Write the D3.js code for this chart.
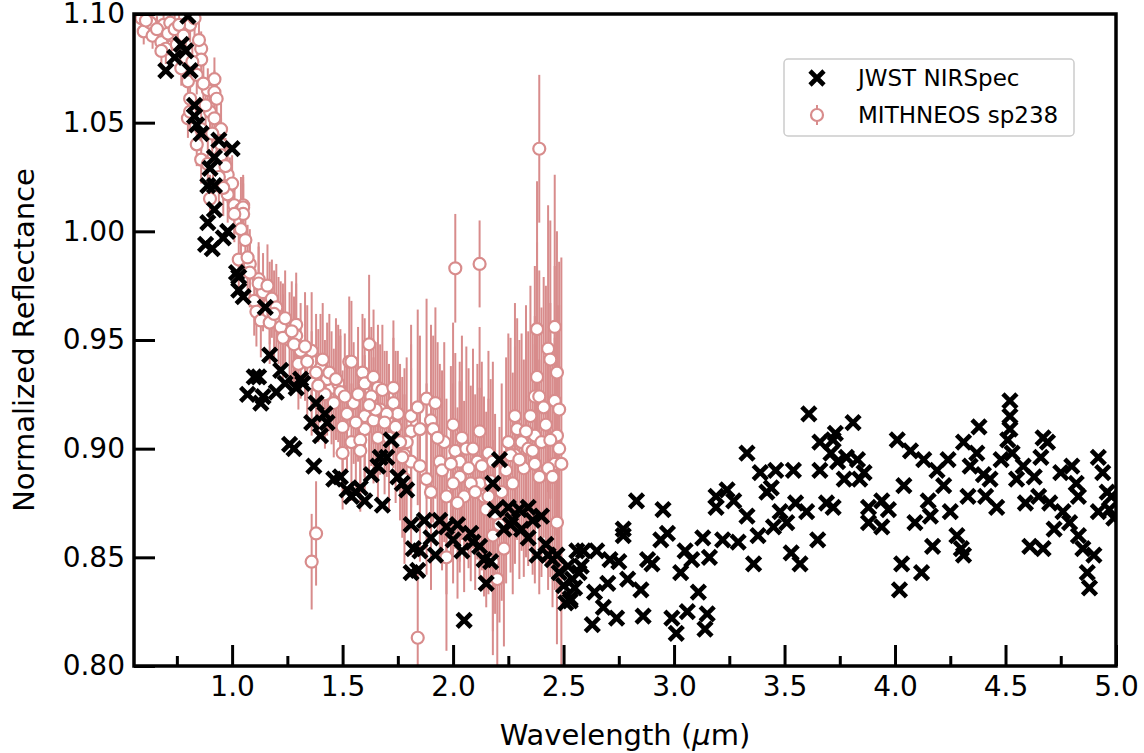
<!DOCTYPE html>
<html>
<head>
<meta charset="utf-8">
<script src="https://cdn.jsdelivr.net/npm/d3@7"></script>
<style>
  body { margin: 0; background: #fff; }
  text { font-family: "DejaVu Sans", sans-serif; }
</style>
</head>
<body>
<div id="chart-area"></div>
<script>
var width = 1144;
var height = 753;
var margin = { left: 134, right: 28, top: 14, bottom: 87 };

// tick labels
var xTicks = [1.0, 1.5, 2.0, 2.5, 3.0, 3.5, 4.0, 4.5, 5.0];
var xMinorTicks = [0.75, 1.25, 1.75, 2.25, 2.75, 3.25, 3.75, 4.25, 4.75];
var yTicks = [0.80, 0.85, 0.90, 0.95, 1.00, 1.05, 1.10];

// JWST NIRSpec
var jwstWave = [0.80,0.77,0.79,0.74,0.70,0.81,0.83,0.83,0.84,0.86,0.94,0.92,0.90,0.89,0.92,0.92,0.89,0.88,0.91,1.00,
  0.98,0.96,1.02,1.03,1.05,1.15,1.03,1.17,1.07,1.12,1.14,1.20,1.10,1.13,1.22,1.29,1.31,1.32,1.26,1.28,
  1.38,1.40,1.37,1.42,1.43,1.46,1.49,1.52,1.56,1.54,1.58,1.60,1.63,1.66,1.68,1.67,1.72,1.70,1.75,1.77,
  1.79,1.81,1.82,1.81,1.84,1.85,1.87,1.90,1.92,1.94,1.97,2.00,2.02,2.04,2.05,2.08,2.09,2.12,2.14,2.15,
  2.17,2.19,2.21,2.18,2.23,2.25,2.26,2.27,2.30,2.31,2.34,2.36,2.34,2.38,2.40,2.42,2.43,2.45,2.47,2.50,
  2.52,2.53,2.54,2.53,2.56,2.59,2.58,2.65,2.64,2.63,2.68,2.71,2.70,2.75,2.74,2.77,2.77,2.79,2.83,2.85,
  2.86,2.88,2.90,2.94,2.95,2.97,2.99,3.01,3.03,3.05,3.06,3.08,3.11,3.13,3.15,3.14,3.16,3.19,3.19,3.22,
  3.24,3.27,3.29,3.33,3.33,3.36,3.38,3.39,3.42,3.45,3.46,3.48,3.51,3.53,3.54,3.55,3.57,3.60,3.61,3.65,
  3.66,3.66,3.69,3.71,3.73,3.72,3.74,3.72,3.81,3.78,3.77,3.83,3.84,3.86,3.88,3.88,3.94,3.94,3.97,4.01,
  4.03,4.02,4.04,4.07,4.09,4.12,4.13,4.15,4.16,4.17,4.19,4.22,4.24,4.25,4.28,4.30,4.31,4.31,4.33,4.34,
  4.37,4.38,4.40,4.41,4.43,4.46,4.48,4.51,4.52,4.52,4.52,4.53,4.55,4.58,4.59,4.61,4.63,4.65,4.67,4.69,
  4.66,4.67,4.70,4.72,4.75,4.76,4.79,4.80,4.82,4.83,4.83,4.85,4.87,4.88,4.90,4.92,4.92,4.94,4.96,4.97,
  4.98,4.99,3.44,2.48,2.55,2.51,2.57,1.36,1.24];
var jwstRefl = [1.099,1.086,1.083,1.080,1.074,1.074,1.058,1.053,1.049,1.045,1.042,1.034,1.029,1.021,1.021,1.010,1.004,0.994,0.992,1.038,
  1.000,0.997,0.981,0.979,0.970,0.965,0.973,0.943,0.925,0.933,0.924,0.926,0.933,0.921,0.936,0.928,0.932,0.930,0.902,0.900,
  0.921,0.906,0.892,0.916,0.912,0.886,0.887,0.881,0.880,0.878,0.882,0.876,0.888,0.892,0.874,0.896,0.904,0.896,0.887,0.884,
  0.881,0.865,0.854,0.843,0.844,0.853,0.867,0.859,0.851,0.867,0.864,0.858,0.865,0.853,0.821,0.861,0.857,0.855,0.849,0.838,
  0.848,0.872,0.895,0.884,0.863,0.873,0.865,0.867,0.872,0.863,0.873,0.867,0.859,0.851,0.869,0.856,0.851,0.849,0.851,0.837,
  0.846,0.830,0.840,0.831,0.853,0.853,0.846,0.853,0.834,0.819,0.827,0.849,0.838,0.848,0.822,0.863,0.860,0.840,0.876,0.835,
  0.823,0.849,0.847,0.858,0.872,0.861,0.822,0.815,0.843,0.853,0.825,0.849,0.834,0.859,0.824,0.817,0.850,0.878,0.873,0.858,
  0.881,0.876,0.857,0.898,0.869,0.847,0.860,0.889,0.880,0.864,0.890,0.871,0.866,0.852,0.890,0.875,0.847,0.871,0.916,0.858,
  0.903,0.890,0.875,0.898,0.907,0.904,0.894,0.873,0.912,0.896,0.886,0.895,0.886,0.889,0.873,0.866,0.876,0.864,0.872,0.904,
  0.847,0.835,0.883,0.899,0.866,0.843,0.895,0.876,0.869,0.855,0.890,0.883,0.895,0.871,0.860,0.854,0.851,0.903,0.878,0.892,
  0.898,0.910,0.888,0.878,0.886,0.873,0.895,0.904,0.922,0.915,0.909,0.898,0.886,0.892,0.875,0.855,0.887,0.878,0.905,0.903,
  0.896,0.854,0.875,0.863,0.889,0.871,0.866,0.892,0.884,0.878,0.860,0.854,0.843,0.836,0.851,0.896,0.871,0.889,0.880,0.872,
  0.878,0.868,0.882,0.843,0.836,0.829,0.843,0.912,0.930];

// MITHNEOS sp238
var mithWave = [0.59,0.60,0.63,0.64,0.68,0.69,0.72,0.73,0.70,0.68,0.75,0.81,0.83,0.86,0.86,0.77,0.80,0.84,0.92,0.89,
  0.92,0.93,0.81,0.80,0.81,0.90,0.92,0.95,0.86,0.84,0.86,0.95,0.95,0.93,0.89,0.98,0.99,1.05,1.01,0.90,
  0.98,1.04,1.04,1.06,1.03,1.08,1.12,1.14,1.10,1.17,1.21,1.23,1.26,1.29,1.31,1.00,1.05,1.05,1.01,1.07,
  1.08,1.12,1.16,1.18,1.20,1.11,1.13,1.17,1.22,1.23,1.29,1.28,1.36,1.30,1.40,1.36,1.45,1.49,1.53,1.62,
  1.54,1.59,1.42,1.48,1.49,1.46,1.55,1.60,1.64,1.66,1.68,1.73,1.73,1.75,1.52,1.60,1.64,1.67,1.70,1.50,
  1.54,1.60,1.58,1.66,1.50,1.58,1.81,1.84,1.88,1.92,1.81,1.79,1.85,1.90,1.91,1.78,1.81,1.85,1.78,1.90,
  1.88,1.94,1.96,2.00,2.01,2.03,2.03,2.06,2.09,2.11,2.12,2.12,2.08,2.05,2.00,1.97,2.02,1.97,2.14,2.15,
  2.18,2.23,2.18,2.20,2.16,2.18,2.16,2.25,2.28,2.29,2.31,2.34,2.32,2.37,2.37,2.38,2.38,2.39,2.41,2.43,
  2.44,2.46,2.46,2.47,2.47,2.46,2.49,2.43,2.37,2.39,2.47,2.28,1.84,2.01,2.12,2.39,1.36,1.38,1.41,1.43,
  1.63,1.65,1.69,1.71,1.56,1.57,1.62,1.74,1.76,1.77,1.93,1.95,1.99,2.04,2.07,2.10,2.13,2.17,2.19,2.21,
  2.22,2.24,2.26,2.27,2.30,2.33,2.35,2.36,2.40,2.42,2.44,2.45,2.48,2.48,1.19,1.24,1.27,1.33,1.34,1.38,
  1.44,1.47,1.51,1.39,0.61,0.66,0.71,0.74,0.76,0.78,0.79,0.82,0.85,0.87,0.88,0.91,0.94,0.96,0.97];
var mithRefl = [1.098,1.092,1.096,1.090,1.087,1.095,1.096,1.090,1.084,1.083,1.086,1.095,1.098,1.084,1.079,1.075,1.069,1.072,1.070,1.065,
  1.064,1.061,1.061,1.052,1.055,1.055,1.052,1.047,1.047,1.040,1.033,1.040,1.035,1.029,1.031,1.026,1.021,1.012,1.012,1.015,
  1.017,1.010,1.001,0.996,0.987,0.985,0.978,0.972,0.968,0.967,0.959,0.955,0.950,0.957,0.945,1.022,1.011,1.008,1.008,0.988,
  0.981,0.976,0.975,0.969,0.965,0.963,0.959,0.958,0.956,0.951,0.952,0.948,0.945,0.939,0.937,0.930,0.928,0.927,0.940,0.948,
  0.940,0.935,0.925,0.930,0.926,0.921,0.921,0.930,0.933,0.928,0.927,0.928,0.921,0.916,0.916,0.915,0.913,0.918,0.916,0.910,
  0.903,0.909,0.904,0.905,0.898,0.899,0.915,0.919,0.923,0.921,0.908,0.903,0.909,0.913,0.909,0.897,0.894,0.892,0.886,0.880,
  0.886,0.894,0.903,0.911,0.899,0.894,0.887,0.900,0.900,0.894,0.908,0.884,0.884,0.878,0.884,0.878,0.875,0.850,0.878,0.872,
  0.860,0.854,0.848,0.840,0.898,0.894,0.878,0.903,0.915,0.909,0.903,0.900,0.891,0.906,0.924,0.933,0.955,0.924,0.919,0.946,
  0.941,0.922,0.956,0.935,0.906,0.893,0.893,0.891,0.893,0.887,0.866,0.897,0.813,0.983,0.985,1.038,0.848,0.861,0.941,0.932,
  0.924,0.918,0.912,0.905,0.912,0.925,0.920,0.910,0.903,0.896,0.905,0.890,0.893,0.905,0.891,0.880,0.892,0.885,0.870,0.865,
  0.880,0.890,0.897,0.884,0.895,0.908,0.915,0.899,0.903,0.911,0.904,0.887,0.900,0.918,0.962,0.960,0.954,0.947,0.940,0.935,
  0.935,0.932,0.924,0.929,1.097,1.093,1.091,1.093,1.095,1.090,1.080,1.078,1.088,1.068,1.058,1.045,1.025,1.020,1.030];
var mithErr = [0.006,0.006,0.006,0.006,0.007,0.007,0.007,0.007,0.007,0.007,0.008,0.008,0.008,0.008,0.009,0.008,0.009,0.009,0.010,0.010,
  0.010,0.011,0.009,0.009,0.009,0.010,0.011,0.012,0.010,0.010,0.011,0.012,0.012,0.011,0.011,0.013,0.013,0.014,0.013,0.011,
  0.013,0.015,0.014,0.015,0.014,0.016,0.017,0.018,0.016,0.019,0.020,0.021,0.022,0.024,0.022,0.013,0.014,0.014,0.013,0.015,
  0.016,0.017,0.019,0.018,0.020,0.016,0.017,0.019,0.021,0.020,0.024,0.022,0.027,0.021,0.025,0.024,0.026,0.028,0.030,0.032,
  0.028,0.027,0.025,0.027,0.026,0.025,0.028,0.030,0.031,0.029,0.030,0.031,0.030,0.029,0.026,0.028,0.029,0.030,0.029,0.026,
  0.027,0.028,0.027,0.029,0.026,0.028,0.042,0.045,0.046,0.044,0.040,0.039,0.043,0.044,0.043,0.040,0.043,0.044,0.039,0.045,
  0.044,0.045,0.046,0.047,0.045,0.046,0.044,0.047,0.046,0.045,0.048,0.044,0.045,0.044,0.046,0.045,0.044,0.043,0.046,0.045,
  0.044,0.045,0.043,0.044,0.047,0.046,0.045,0.050,0.052,0.051,0.050,0.054,0.050,0.055,0.060,0.062,0.068,0.058,0.060,0.066,
  0.064,0.062,0.070,0.065,0.060,0.058,0.095,0.056,0.055,0.054,0.056,0.050,0.030,0.025,0.020,0.034,0.022,0.024,0.026,0.026,
  0.032,0.031,0.033,0.034,0.030,0.031,0.032,0.035,0.036,0.037,0.044,0.046,0.045,0.047,0.046,0.045,0.048,0.047,0.046,0.045,
  0.050,0.052,0.054,0.051,0.055,0.058,0.060,0.057,0.062,0.064,0.063,0.060,0.066,0.068,0.020,0.022,0.023,0.025,0.026,0.027,
  0.027,0.028,0.029,0.026,0.006,0.006,0.007,0.007,0.008,0.008,0.008,0.009,0.009,0.010,0.010,0.011,0.012,0.013,0.013];

var pink = "#d88c8c";

var svg = d3.select("#chart-area")
  .append("svg")
  .attr("width", width)
  .attr("height", height);

var x = d3.scaleLinear()
  .domain([0.556, 5.0])
  .range([margin.left, width - margin.right]);

var y = d3.scaleLinear()
  .domain([0.80, 1.10])
  .range([height - margin.bottom, margin.top]);

svg.append("clipPath")
  .attr("id", "plot-clip")
  .append("rect")
  .attr("x", margin.left)
  .attr("y", margin.top)
  .attr("width", width - margin.left - margin.right)
  .attr("height", height - margin.top - margin.bottom);

var plot = svg.append("g").attr("clip-path", "url(#plot-clip)");

// MITHNEOS error bars, then circles
var mith = d3.range(mithWave.length);

plot.selectAll("line.err")
  .data(mith)
  .enter()
  .append("line")
  .attr("class", "err")
  .attr("x1", function(i) { return x(mithWave[i]); })
  .attr("x2", function(i) { return x(mithWave[i]); })
  .attr("y1", function(i) { return y(mithRefl[i] - mithErr[i]); })
  .attr("y2", function(i) { return y(mithRefl[i] + mithErr[i]); })
  .attr("stroke", pink)
  .attr("stroke-width", 2);

plot.selectAll("circle.mith")
  .data(mith)
  .enter()
  .append("circle")
  .attr("class", "mith")
  .attr("cx", function(i) { return x(mithWave[i]); })
  .attr("cy", function(i) { return y(mithRefl[i]); })
  .attr("r", 6)
  .attr("fill", "#fff")
  .attr("stroke", pink)
  .attr("stroke-width", 2.2);

// JWST crosses
var s = 7;
var crossPath = "M" + (-s) + "," + (-s) + "L" + s + "," + s + "M" + (-s) + "," + s + "L" + s + "," + (-s);

plot.selectAll("path.jwst")
  .data(d3.range(jwstWave.length))
  .enter()
  .append("path")
  .attr("class", "jwst")
  .attr("transform", function(i) {
    return "translate(" + x(jwstWave[i]) + "," + y(jwstRefl[i]) + ")";
  })
  .attr("d", crossPath)
  .attr("stroke", "#000")
  .attr("stroke-width", 4.6)
  .attr("fill", "none");

// Axes (ticks pointing inward)
svg.append("g")
  .attr("transform", "translate(0," + (height - margin.bottom) + ")")
  .call(d3.axisBottom(x).tickValues(xTicks).tickSize(-21).tickPadding(10).tickFormat(d3.format(".1f")));

svg.append("g")
  .attr("transform", "translate(0," + (height - margin.bottom) + ")")
  .call(d3.axisBottom(x).tickValues(xMinorTicks).tickSize(-10).tickFormat(""));

svg.append("g")
  .attr("transform", "translate(" + margin.left + ",0)")
  .call(d3.axisLeft(y).tickValues(yTicks).tickSize(-21).tickPadding(9).tickFormat(d3.format(".2f")));

svg.selectAll(".tick line").attr("stroke-width", 3);
svg.selectAll(".tick text").attr("font-size", 28).attr("font-family", "DejaVu Sans").attr("fill", "#000");
svg.selectAll(".domain").remove();

// frame
svg.append("rect")
  .attr("x", margin.left)
  .attr("y", margin.top)
  .attr("width", width - margin.left - margin.right)
  .attr("height", height - margin.top - margin.bottom)
  .attr("fill", "none")
  .attr("stroke", "#000")
  .attr("stroke-width", 3.5);

// axis labels
var xl = svg.append("text")
  .attr("x", (margin.left + width - margin.right) / 2)
  .attr("y", 745)
  .attr("text-anchor", "middle")
  .attr("font-size", 29);
xl.append("tspan").text("Wavelength (");
xl.append("tspan").attr("font-style", "italic").text("μ");
xl.append("tspan").text("m)");

svg.append("text")
  .attr("transform", "translate(34," + ((margin.top + height - margin.bottom) / 2) + ") rotate(-90)")
  .attr("text-anchor", "middle")
  .attr("font-size", 29)
  .text("Normalized Reflectance");

// legend
var lg = svg.append("g").attr("transform", "translate(784,59)");
lg.append("rect")
  .attr("width", 290)
  .attr("height", 77)
  .attr("rx", 4)
  .attr("fill", "#fff")
  .attr("stroke", "#cccccc")
  .attr("stroke-width", 1.5);

lg.append("path")
  .attr("transform", "translate(33,19)")
  .attr("d", crossPath)
  .attr("stroke", "#000")
  .attr("stroke-width", 4.6);
lg.append("text").attr("x", 74).attr("y", 27).attr("font-size", 23).text("JWST NIRSpec");

lg.append("line")
  .attr("x1", 33).attr("x2", 33).attr("y1", 46).attr("y2", 66)
  .attr("stroke", pink).attr("stroke-width", 2);
lg.append("circle")
  .attr("cx", 33).attr("cy", 56).attr("r", 6)
  .attr("fill", "#fff").attr("stroke", pink).attr("stroke-width", 2.2);
lg.append("text").attr("x", 74).attr("y", 64).attr("font-size", 23).text("MITHNEOS sp238");
</script>
</body>
</html>
